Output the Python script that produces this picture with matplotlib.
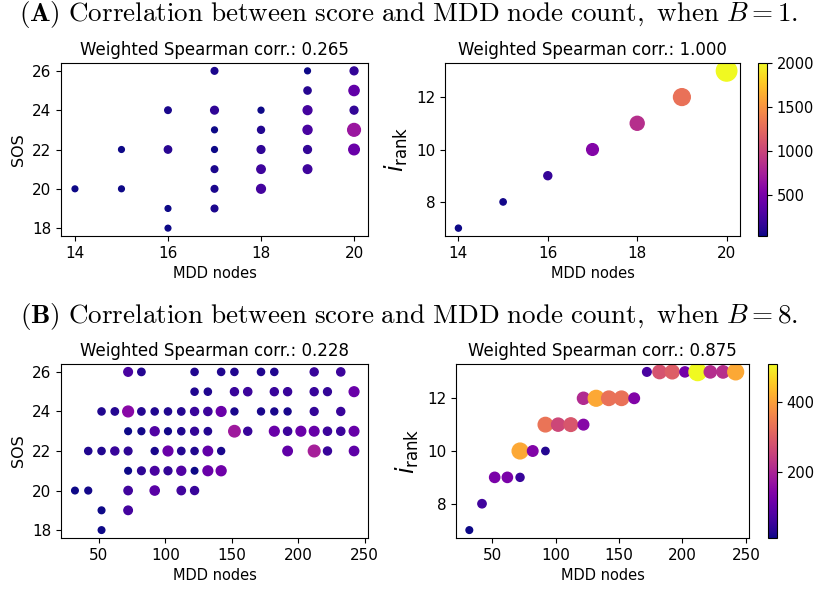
import numpy as np
import matplotlib
matplotlib.use("Agg")
import matplotlib.pyplot as plt
from matplotlib.colors import Normalize
from matplotlib.ticker import MultipleLocator

# ---- (A) B = 1 ----
a_nodes = [14,
           15, 15,
           16, 16, 16, 16,
           17, 17, 17, 17, 17, 17, 17,
           18, 18, 18, 18, 18,
           19, 19, 19, 19, 19, 19,
           20, 20, 20, 20, 20]
a_sos = [20,
         22, 20,
         24, 22, 19, 18,
         26, 24, 23, 22, 21, 20, 19,
         24, 23, 22, 21, 20,
         26, 25, 24, 23, 22, 21,
         26, 25, 24, 23, 22]
a_count = [10,
           12, 12,
           60, 120, 10, 10,
           70, 150, 15, 15, 70, 70, 70,
           20, 90, 150, 210, 240,
           15, 110, 240, 260, 160, 220,
           160, 380, 160, 680, 420]

a_rank_nodes = [14, 15, 16, 17, 18, 19, 20]
a_rank = [7, 8, 9, 10, 11, 12, 13]
a_rank_count = [28, 45, 170, 550, 850, 1300, 2005]

# ---- (B) B = 8 ----
b_nodes = [72, 82, 122, 142, 152, 172, 182, 212, 232,
           122, 132, 152, 162, 182, 192, 212, 222, 242,
           52, 62, 72, 82, 92, 102, 112, 122, 132, 142, 152, 172, 182, 192, 212, 232,
           72, 82, 92, 102, 112, 122, 132, 152, 162, 182, 192, 202, 212, 222, 232, 242,
           42, 52, 62, 72, 92, 102, 112, 122, 132, 142, 192, 212, 222, 242,
           72, 82, 92, 102, 112, 122, 132, 142,
           32, 42, 72, 92, 112, 122,
           52, 72,
           52]
b_sos = [26] * 9 + [25] * 9 + [24] * 16 + [23] * 16 + [22] * 14 + [21] * 8 + [20] * 6 + [19] * 2 + [18]
b_count = [70, 30, 25, 25, 25, 25, 25, 50, 55,
           25, 25, 50, 55, 50, 50, 50, 45, 110,
           25, 30, 150, 30, 25, 25, 30, 50, 55, 110, 20, 20, 20, 20, 45, 50,
           12, 15, 80, 15, 25, 45, 30, 180, 50, 110, 55, 110, 105, 55, 55, 105,
           25, 25, 50, 40, 20, 110, 30, 25, 100, 20, 100, 190, 50, 95,
           12, 40, 70, 45, 80, 10, 110, 115,
           10, 15, 60, 90, 60, 50,
           12, 65,
           10]

b_rank_nodes = [32, 42, 52, 62, 72, 72, 82, 92, 92, 102, 112, 122, 122,
                132, 142, 152, 162, 172, 182, 192, 202, 212, 222, 232, 242]
b_rank = [7, 8, 9, 9, 9, 10, 10, 10, 11, 11, 11, 11, 12,
          12, 12, 12, 12, 13, 13, 13, 13, 13, 13, 13, 13]
b_rank_count = [11, 60, 130, 130, 50, 410, 140, 30, 335, 260, 285, 145, 210,
                410, 330, 330, 140, 70, 280, 300, 125, 508, 215, 220, 410]


def size_a(c):
    return 16 + 0.1 * np.asarray(c)


def size_b(c):
    return 20 + 0.266 * np.asarray(c)


fig = plt.figure(figsize=(8.17, 5.89), dpi=100)
W, H = 817, 589


def add_ax(x0, y0, x1, y1):
    return fig.add_axes([x0 / W, 1 - y1 / H, (x1 - x0) / W, (y1 - y0) / H])


def draw_row(left_box, right_box, cbar_box, nodes, score, count,
             r_nodes, r_rank, r_count, size_fn, corr_l, corr_r, xstep=None, cticks=None):
    norm = Normalize(vmin=min(r_count), vmax=max(r_count))
    ax1 = add_ax(*left_box)
    ax1.scatter(nodes, score, s=size_fn(count), c=count, cmap="plasma", norm=norm)
    ax1.set_title(f"Weighted Spearman corr.: {corr_l:.3f}", fontsize=12)
    ax1.set_xlabel("MDD nodes", fontsize=10.5)
    ax1.set_ylabel("SOS", fontsize=11.5)
    ax1.yaxis.set_major_locator(MultipleLocator(2))
    ax1.tick_params(labelsize=11)

    ax2 = add_ax(*right_box)
    sc = ax2.scatter(r_nodes, r_rank, s=size_fn(r_count), c=r_count, cmap="plasma", norm=norm)
    ax2.set_title(f"Weighted Spearman corr.: {corr_r:.3f}", fontsize=12)
    ax2.set_xlabel("MDD nodes", fontsize=10.5)
    ax2.set_ylabel(r"$i_{\mathrm{rank}}$", fontsize=17)
    ax2.yaxis.set_major_locator(MultipleLocator(2))
    ax2.tick_params(labelsize=11)

    if xstep is not None:
        ax1.xaxis.set_major_locator(MultipleLocator(xstep))
        ax2.xaxis.set_major_locator(MultipleLocator(xstep))

    cax = add_ax(*cbar_box)
    cb = fig.colorbar(sc, cax=cax)
    if cticks is not None:
        cb.set_ticks(cticks)
    cb.ax.tick_params(labelsize=10.5)


draw_row((61, 63, 368, 236), (445, 63, 740, 236), (758, 63, 767, 236),
         a_nodes, a_sos, a_count, a_rank_nodes, a_rank, a_rank_count,
         size_a, 0.265, 1.000, xstep=2, cticks=[500, 1000, 1500, 2000])
draw_row((61, 364, 368, 538), (456, 364, 749, 538), (768, 364, 777, 538),
         b_nodes, b_sos, b_count, b_rank_nodes, b_rank, b_rank_count,
         size_b, 0.228, 0.875, xstep=50, cticks=[200, 400])

fig.text(0.5, 1 - 15 / H,
         r"$\mathbf{(A)}\ \mathrm{Correlation\ between\ score\ and\ MDD\ node\ count,\ when}\ B=1.$",
         ha="center", va="center", fontsize=19.5, math_fontfamily="cm")
fig.text(0.5, 1 - 316 / H,
         r"$\mathbf{(B)}\ \mathrm{Correlation\ between\ score\ and\ MDD\ node\ count,\ when}\ B=8.$",
         ha="center", va="center", fontsize=19.5, math_fontfamily="cm")

fig.savefig("out.png", dpi=100)
